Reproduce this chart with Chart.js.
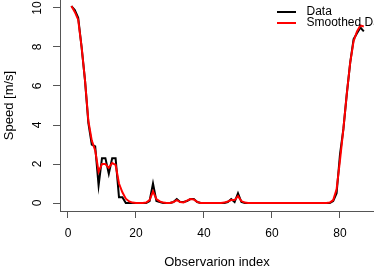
<!DOCTYPE html>
<html>
<head>
<meta charset="utf-8">
<script src="https://cdn.jsdelivr.net/npm/chart.js@4.4.1/dist/chart.umd.min.js"></script>
<style>
  html, body { margin: 0; padding: 0; background: #fff; overflow: hidden; }
</style>
</head>
<body>
<canvas id="myChart" width="374" height="271"></canvas>
<script>
// Observed speed, one value per observation (index 1..87)
const speedData = [
  10.1, 9.9, 9.5, 8.0, 6.3, 4.1, 3.0, 2.9, 0.9, 2.3,
  2.3, 1.5, 2.3, 2.3, 0.3, 0.3, 0.0, 0.0, 0.0, 0.0,
  0.0, 0.0, 0.0, 0.1, 1.0, 0.1, 0.05, 0.0, 0.0, 0.0,
  0.05, 0.2, 0.05, 0.05, 0.1, 0.2, 0.2, 0.05, 0.0, 0.0,
  0.0, 0.0, 0.0, 0.0, 0.0, 0.0, 0.05, 0.2, 0.05, 0.5,
  0.05, 0.0, 0.0, 0.0, 0.0, 0.0, 0.0, 0.0, 0.0, 0.0,
  0.0, 0.0, 0.0, 0.0, 0.0, 0.0, 0.0, 0.0, 0.0, 0.0,
  0.0, 0.0, 0.0, 0.0, 0.0, 0.0, 0.0, 0.1, 0.5, 2.5,
  3.8, 5.6, 7.2, 8.4, 8.7, 9.0, 8.8
];

// Smoothed speed
const smoothedData = [
  10.1, 9.8, 9.4, 8.0, 6.3, 4.2, 3.2, 2.7, 1.6, 2.0,
  2.0, 1.8, 2.05, 1.95, 1.0, 0.55, 0.22, 0.08, 0.02, 0.0,
  0.0, 0.0, 0.02, 0.15, 0.6, 0.2, 0.08, 0.02, 0.0, 0.0,
  0.05, 0.15, 0.05, 0.03, 0.12, 0.2, 0.18, 0.06, 0.0, 0.0,
  0.0, 0.0, 0.0, 0.0, 0.0, 0.02, 0.08, 0.15, 0.15, 0.35,
  0.1, 0.02, 0.0, 0.0, 0.0, 0.0, 0.0, 0.0, 0.0, 0.0,
  0.0, 0.0, 0.0, 0.0, 0.0, 0.0, 0.0, 0.0, 0.0, 0.0,
  0.0, 0.0, 0.0, 0.0, 0.0, 0.0, 0.02, 0.15, 0.7, 2.2,
  3.8, 5.6, 7.2, 8.3, 8.8, 9.1, 9.05
];

const xTicks = [0, 20, 40, 60, 80];
const yTicks = [0, 2, 4, 6, 8, 10];

const seriesLabels = ["Data", "Smoothed Data"];
const seriesColors = ["#000000", "#ff0000"];

const axisColor = "#555555";
Chart.defaults.font.family = "'Liberation Sans', Arial, sans-serif";
Chart.defaults.font.size = 12;
Chart.defaults.color = "#000000";

// observation index starts at 1
function toPoints(values) {
  return values.map((v, i) => ({ x: i + 1, y: v }));
}

// y tick labels in R are rotated, Chart.js can't do that on a vertical axis
const rotatedYLabels = {
  id: "rotatedYLabels",
  afterDraw(chart) {
    const ctx = chart.ctx;
    const yScale = chart.scales.y;
    ctx.save();
    ctx.fillStyle = "#000";
    ctx.font = "12px 'Liberation Sans', Arial, sans-serif";
    ctx.textAlign = "center";
    ctx.textBaseline = "middle";
    yScale.ticks.forEach((t) => {
      const py = yScale.getPixelForValue(t.value);
      ctx.save();
      ctx.translate(38, py);
      ctx.rotate(-Math.PI / 2);
      ctx.fillText(String(t.value), 0, 0);
      ctx.restore();
    });
    ctx.restore();
  },
};

// legend in the top right corner, text runs off the edge like the original
const cornerLegend = {
  id: "cornerLegend",
  afterDraw(chart) {
    const ctx = chart.ctx;
    ctx.save();
    ctx.font = "12px 'Liberation Sans', Arial, sans-serif";
    ctx.textAlign = "left";
    ctx.textBaseline = "middle";
    seriesLabels.forEach((label, i) => {
      const y = 12 + i * 11;
      ctx.strokeStyle = seriesColors[i];
      ctx.lineWidth = 2;
      ctx.beginPath();
      ctx.moveTo(277, y);
      ctx.lineTo(296, y);
      ctx.stroke();
      ctx.fillStyle = "#000";
      ctx.fillText(label, 306.5, y);
    });
    ctx.restore();
  },
};

const ctx = document.getElementById("myChart").getContext("2d");

const myChart = new Chart(ctx, {
  type: "line",
  data: {
    datasets: [
      {
        label: seriesLabels[0],
        data: toPoints(speedData),
        borderColor: seriesColors[0],
        borderWidth: 2,
        pointRadius: 0,
        tension: 0,
        order: 1,
      },
      {
        label: seriesLabels[1],
        data: toPoints(smoothedData),
        borderColor: seriesColors[1],
        borderWidth: 2,
        pointRadius: 0,
        tension: 0,
        order: 0,
      },
    ],
  },
  options: {
    responsive: false,
    animation: false,
    layout: { padding: 0 },
    plugins: {
      legend: { display: false },
      tooltip: { enabled: false },
    },
    scales: {
      x: {
        type: "linear",
        min: -2.35,
        max: 90,
        afterBuildTicks: (axis) => { axis.ticks = xTicks.map((v) => ({ value: v })); },
        afterFit: (axis) => { axis.height = 60; },
        grid: { drawOnChartArea: false, tickLength: 7, color: axisColor },
        border: { color: axisColor, width: 1 },
        ticks: { padding: 8, maxRotation: 0, autoSkip: false, color: "#000" },
        title: {
          display: true,
          text: "Observarion index",
          color: "#000",
          font: { size: 13 },
          padding: { top: 0, bottom: 1 },
        },
      },
      y: {
        min: -0.41,
        max: 10.41,
        afterBuildTicks: (axis) => { axis.ticks = yTicks.map((v) => ({ value: v })); },
        afterFit: (axis) => { axis.width = 60; },
        grid: { drawOnChartArea: false, tickLength: 7, color: axisColor },
        border: { color: axisColor, width: 1 },
        ticks: { display: false },
        title: {
          display: true,
          text: "Speed [m/s]",
          color: "#000",
          font: { size: 13 },
          padding: { top: 2, bottom: 0 },
        },
      },
    },
  },
  plugins: [rotatedYLabels, cornerLegend],
});
</script>
</body>
</html>
